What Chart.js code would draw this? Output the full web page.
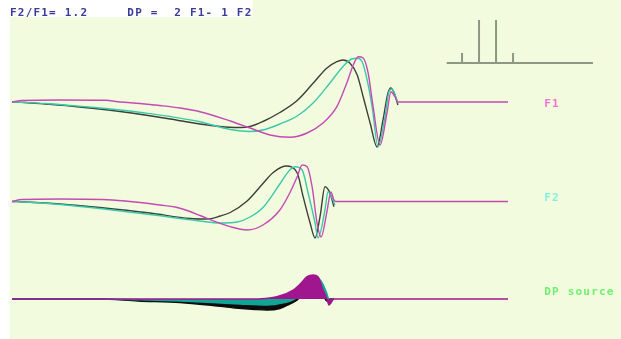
<!DOCTYPE html>
<html>
<head>
<meta charset="utf-8">
<script src="https://cdn.jsdelivr.net/npm/chart.js@4/dist/chart.umd.min.js"></script>
<style>
  html, body { margin: 0; padding: 0; background: #ffffff; }
  #wrap { position: absolute; left: 10px; top: 0; width: 611px; height: 339px; background: #f2fbdd; }
  canvas { display: block; }
</style>
</head>
<body>
<div id="wrap"><canvas id="c" width="611" height="339"></canvas></div>
<script>
// Travelling-wave snapshots: [place along the membrane (0..100), displacement (arb. units)]
// Three phases per trace: dark, teal, magenta.
const F1_DARK = [[0,0],[2.6,-0.5],[6.7,-2],[11.7,-4],[16.7,-6.5],[21.8,-9.5],[26.8,-13],[31.9,-17],[37.9,-22],[41.9,-24.5],[45.4,-25.5],[48.0,-24.5],[50.6,-19.5],[54.0,-10.5],[57.5,1.5],[60.7,18.7],[63.5,34],[65.5,40.3],[66.7,42],[68.1,39],[69.6,27],[70.8,5.3],[72.2,-21],[73.6,-45],[74.8,-18],[75.8,9],[76.4,14],[77.2,7],[77.8,-3]];
const F1_TEAL = [[0,0],[2.6,-0.5],[6.7,-1.5],[11.7,-3.5],[16.7,-5.5],[21.8,-8],[26.8,-11],[31.9,-14.5],[37.9,-19.7],[44.0,-27.5],[48.0,-29.5],[50.6,-28],[54.0,-22],[57.5,-14],[60.7,-1],[64.1,19],[66.7,35.3],[68.5,43],[69.6,43.7],[70.6,40.3],[71.6,22],[72.6,-4.7],[73.8,-44.7],[75.2,-14.7],[76.0,10.3],[76.6,13],[77.6,2],[77.8,-1]];
const F1_MAGENTA = [[0,0],[2.0,1.5],[9.7,2],[18.8,1.7],[21.8,0],[25.8,-1.5],[29.8,-3.5],[33.9,-6],[37.9,-9.7],[44.0,-19],[48.0,-26],[52.0,-33],[56.0,-35.3],[59.5,-31],[62.7,-21],[65.5,-4.7],[67.5,19],[68.8,37],[69.8,45.3],[70.8,44],[71.8,29],[72.8,-4.7],[74.2,-43],[75.6,-11],[76.4,10.3],[77.2,5.3],[77.8,0],[100,0]];

const F2_DARK = [[0,0],[2.6,-0.5],[9.7,-2.5],[17.7,-6],[27.8,-11.5],[35.9,-17],[39.3,-17.5],[42.0,-14.5],[44.0,-11],[47.4,0.5],[50.6,18],[52.6,28.8],[55.2,35.5],[57.5,28.5],[58.7,4.8],[60.1,-21.5],[61.1,-36.5],[62.1,-15.2],[63.1,14.8],[64.1,8.5],[64.9,-5.2]];
const F2_TEAL = [[0,0],[2.6,-0.5],[9.7,-3],[17.7,-7],[27.8,-13],[37.9,-19.5],[42.0,-21.5],[45.4,-20.5],[48.0,-15.5],[50.6,-6],[54.0,17.5],[56.0,31.5],[57.1,34.8],[58.5,31.5],[59.7,8.5],[61.1,-21.5],[61.7,-36.5],[63.1,-8.5],[63.7,9.8],[64.7,1.5],[65.1,-3.5]];
const F2_MAGENTA = [[0,0],[2.0,2],[9.7,2.5],[18.3,2],[22.8,0.5],[26.8,-1.5],[29.8,-3.5],[32.9,-5.5],[35.9,-10],[37.9,-14],[44.0,-25.2],[47.4,-28.5],[50.6,-23.5],[54.0,-8.5],[56.0,8.5],[57.5,24.8],[58.5,36.5],[59.5,34.8],[60.5,14.8],[61.5,-21.5],[62.3,-35.5],[63.5,-10],[64.3,9.5],[64.9,1.5],[65.3,0],[100,0]];

const DP_DARK = [[0,0],[17.7,0],[25.4,-2],[33.9,-3.5],[40.5,-6.5],[45.0,-9],[49.0,-10.5],[51.4,-11],[54.0,-9.5],[56.0,-5],[57.5,-1],[59.1,8],[60.5,14],[61.7,12],[62.7,4],[63.5,-2],[64.1,0],[64.9,0]];
const DP_TEAL = [[0,0],[17.7,0],[27.8,-1],[33.9,-2],[40.5,-3.5],[46.0,-5],[51.4,-6],[55.0,-3.5],[56.7,-1],[58.5,6],[60.1,16],[61.3,22],[62.3,18],[63.3,8],[64.1,-2],[64.7,0]];
const DP_MAGENTA = [[0,0],[48.0,0],[53.4,2.3],[56.7,9],[58.1,15],[59.5,22.3],[60.7,24],[61.7,22.3],[62.7,9],[63.5,0],[63.9,-6],[64.3,-4],[64.9,0],[100,0]];

// Primary tones and distortion products, frequency relative to F1
const SPEC_FREQ = [0.8, 1.0, 1.2, 1.4];
const SPEC_AMP = [0.23, 1, 1, 0.23];
const SPEC_RANGE = [0.62, 2.34];

const TITLE_TEXT = 'F2/F1= 1.2     DP =  2 F1- 1 F2';
const TRACE_LABELS = ['F1', 'F2', 'DP source'];

const COL_DARK = '#3a403a';
const COL_TEAL = '#3cc9aa';
const COL_MAG = '#c44ab4';

const pts = arr => arr.map(([x, y]) => ({ x, y }));

function curve(arr, color, axis, order) {
  return {
    data: pts(arr), yAxisID: axis, xAxisID: 'x',
    borderColor: color, borderWidth: 1.4, pointRadius: 0,
    cubicInterpolationMode: 'monotone', fill: false, order
  };
}
function filled(arr, lineColor, fillColor, order) {
  return {
    data: pts(arr), yAxisID: 'yDP', xAxisID: 'x',
    borderColor: lineColor, backgroundColor: fillColor, borderWidth: 1.4, pointRadius: 0,
    cubicInterpolationMode: 'monotone', fill: 'origin', order
  };
}

// spectrum sticks: each stick is a segment from 0 to its amplitude, separated by gaps
const specData = [{ x: SPEC_RANGE[0], y: 0 }, { x: SPEC_RANGE[1], y: 0 }, { x: SPEC_RANGE[1], y: null }];
SPEC_FREQ.forEach((f, i) => {
  specData.push({ x: f, y: 0 }, { x: f, y: SPEC_AMP[i] }, { x: f, y: null });
});

const textPlugin = {
  id: 'traceText',
  afterDatasetsDraw(chart) {
    const ctx = chart.ctx;
    ctx.save();
    ctx.font = 'bold 11px "DejaVu Sans Mono"';
    if ('letterSpacing' in ctx) ctx.letterSpacing = '1.2px';
    ctx.textBaseline = 'middle';
    const w = ctx.measureText(TITLE_TEXT).width;
    ctx.fillStyle = '#ffffff';
    ctx.fillRect(0, 0, w, 17);
    ctx.fillStyle = '#3a3a9c';
    ctx.fillText(TITLE_TEXT, 0, 13);
    const xs = chart.scales.x;
    const lx = xs.getPixelForValue(107.3);
    const cols = ['#f070d4', '#80f0e0', '#70f070'];
    const axes = ['yF1', 'yF2', 'yDP'];
    const dy = [2.5, -3.5, -7];
    TRACE_LABELS.forEach((t, i) => {
      ctx.fillStyle = cols[i];
      ctx.fillText(t, lx, chart.scales[axes[i]].getPixelForValue(0) + dy[i]);
    });
    ctx.restore();
  }
};

new Chart(document.getElementById('c'), {
  type: 'line',
  data: {
    datasets: [
      curve(F1_DARK, COL_DARK, 'yF1', 3),
      curve(F1_TEAL, COL_TEAL, 'yF1', 2),
      curve(F1_MAGENTA, COL_MAG, 'yF1', 1),
      curve(F2_DARK, COL_DARK, 'yF2', 3),
      curve(F2_TEAL, COL_TEAL, 'yF2', 2),
      curve(F2_MAGENTA, COL_MAG, 'yF2', 1),
      filled(DP_DARK, '#0c0c0c', '#0c0c0c', 6),
      filled(DP_TEAL, '#12a596', '#12a596', 5),
      filled(DP_MAGENTA, '#a0168f', '#a0168f', 4),
      {
        data: specData, xAxisID: 'xs', yAxisID: 'ys',
        borderColor: '#8a9884', borderWidth: 2, pointRadius: 0, tension: 0,
        spanGaps: false, fill: false, order: 0
      }
    ]
  },
  options: {
    responsive: false,
    devicePixelRatio: 1,
    animation: false,
    layout: { padding: 0 },
    plugins: { legend: { display: false }, tooltip: { enabled: false }, title: { display: false } },
    scales: {
      x: { type: 'linear', axis: 'x', min: -0.403, max: 122.78, display: false },
      xs: { type: 'linear', axis: 'x', min: -4.518, max: 2.670, display: false },
      yF1: { type: 'linear', axis: 'y', min: -237, max: 102, display: false },
      yF2: { type: 'linear', axis: 'y', min: -137.5, max: 201.5, display: false },
      yDP: { type: 'linear', axis: 'y', min: -40, max: 299, display: false },
      ys: { type: 'linear', axis: 'y', min: -6.419, max: 1.465, display: false }
    }
  },
  plugins: [textPlugin]
});
</script>
</body>
</html>
